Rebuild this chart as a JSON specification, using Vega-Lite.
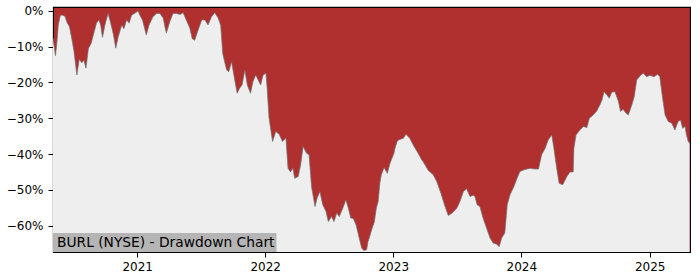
{
  "$schema": "https://vega.github.io/schema/vega-lite/v6.json",
  "autosize": {"type": "none"},
  "padding": {"left": 53, "top": 7, "right": 10, "bottom": 28},
  "width": 637,
  "height": 245,
  "config": {
    "view": {"stroke": "#000000", "strokeWidth": 1.1, "fill": "#b03030"},
    "font": "DejaVu Sans"
  },
  "datasets": {
    "drawdown": [
    {"date": "2020-05-06", "dd": -0.075}, {"date": "2020-05-13", "dd": -0.125}, {"date": "2020-05-17", "dd": -0.09},
    {"date": "2020-05-21", "dd": -0.04}, {"date": "2020-05-27", "dd": -0.012}, {"date": "2020-06-03", "dd": -0.012},
    {"date": "2020-06-09", "dd": -0.015}, {"date": "2020-06-15", "dd": -0.032}, {"date": "2020-06-22", "dd": -0.044},
    {"date": "2020-06-29", "dd": -0.08}, {"date": "2020-07-05", "dd": -0.114}, {"date": "2020-07-13", "dd": -0.179},
    {"date": "2020-07-20", "dd": -0.135}, {"date": "2020-07-27", "dd": -0.145}, {"date": "2020-08-02", "dd": -0.138},
    {"date": "2020-08-08", "dd": -0.16}, {"date": "2020-08-15", "dd": -0.105}, {"date": "2020-08-23", "dd": -0.09},
    {"date": "2020-08-29", "dd": -0.067}, {"date": "2020-09-07", "dd": -0.034}, {"date": "2020-09-14", "dd": -0.025},
    {"date": "2020-09-19", "dd": -0.04}, {"date": "2020-09-24", "dd": -0.074}, {"date": "2020-10-01", "dd": -0.039},
    {"date": "2020-10-10", "dd": -0.007}, {"date": "2020-10-17", "dd": -0.032}, {"date": "2020-10-25", "dd": -0.065},
    {"date": "2020-11-01", "dd": -0.104}, {"date": "2020-11-08", "dd": -0.072}, {"date": "2020-11-18", "dd": -0.039},
    {"date": "2020-11-24", "dd": -0.05}, {"date": "2020-12-02", "dd": -0.025}, {"date": "2020-12-09", "dd": -0.034},
    {"date": "2020-12-16", "dd": -0.012}, {"date": "2020-12-24", "dd": -0.007}, {"date": "2021-01-04", "dd": 0.0},
    {"date": "2021-01-08", "dd": -0.011}, {"date": "2021-01-16", "dd": -0.025}, {"date": "2021-01-27", "dd": -0.067},
    {"date": "2021-02-04", "dd": -0.039}, {"date": "2021-02-15", "dd": -0.016}, {"date": "2021-02-25", "dd": -0.007},
    {"date": "2021-03-07", "dd": -0.007}, {"date": "2021-03-16", "dd": -0.02}, {"date": "2021-03-25", "dd": -0.062},
    {"date": "2021-04-04", "dd": -0.03}, {"date": "2021-04-13", "dd": -0.007}, {"date": "2021-04-24", "dd": -0.007},
    {"date": "2021-05-03", "dd": -0.01}, {"date": "2021-05-12", "dd": -0.005}, {"date": "2021-05-21", "dd": -0.025},
    {"date": "2021-05-31", "dd": -0.048}, {"date": "2021-06-07", "dd": -0.078}, {"date": "2021-06-14", "dd": -0.082},
    {"date": "2021-06-22", "dd": -0.058}, {"date": "2021-07-04", "dd": -0.025}, {"date": "2021-07-13", "dd": -0.025},
    {"date": "2021-07-22", "dd": -0.039}, {"date": "2021-08-01", "dd": -0.016}, {"date": "2021-08-10", "dd": -0.005},
    {"date": "2021-08-20", "dd": -0.02}, {"date": "2021-08-27", "dd": -0.04}, {"date": "2021-09-02", "dd": -0.12},
    {"date": "2021-09-13", "dd": -0.165}, {"date": "2021-09-19", "dd": -0.17}, {"date": "2021-09-27", "dd": -0.142},
    {"date": "2021-10-07", "dd": -0.198}, {"date": "2021-10-13", "dd": -0.23}, {"date": "2021-10-20", "dd": -0.216},
    {"date": "2021-10-27", "dd": -0.207}, {"date": "2021-11-04", "dd": -0.165}, {"date": "2021-11-11", "dd": -0.207},
    {"date": "2021-11-20", "dd": -0.23}, {"date": "2021-11-27", "dd": -0.198}, {"date": "2021-12-05", "dd": -0.179},
    {"date": "2021-12-12", "dd": -0.193}, {"date": "2021-12-19", "dd": -0.207}, {"date": "2021-12-26", "dd": -0.179},
    {"date": "2022-01-03", "dd": -0.174}, {"date": "2022-01-06", "dd": -0.21}, {"date": "2022-01-12", "dd": -0.3},
    {"date": "2022-01-22", "dd": -0.365}, {"date": "2022-01-31", "dd": -0.337}, {"date": "2022-02-10", "dd": -0.345},
    {"date": "2022-02-19", "dd": -0.365}, {"date": "2022-03-01", "dd": -0.355}, {"date": "2022-03-07", "dd": -0.44},
    {"date": "2022-03-14", "dd": -0.45}, {"date": "2022-03-21", "dd": -0.44}, {"date": "2022-03-26", "dd": -0.468},
    {"date": "2022-04-05", "dd": -0.463}, {"date": "2022-04-12", "dd": -0.43}, {"date": "2022-04-19", "dd": -0.379},
    {"date": "2022-04-29", "dd": -0.398}, {"date": "2022-05-06", "dd": -0.402}, {"date": "2022-05-13", "dd": -0.491},
    {"date": "2022-05-23", "dd": -0.547}, {"date": "2022-05-29", "dd": -0.523}, {"date": "2022-06-06", "dd": -0.505},
    {"date": "2022-06-14", "dd": -0.542}, {"date": "2022-06-23", "dd": -0.56}, {"date": "2022-06-30", "dd": -0.589},
    {"date": "2022-07-09", "dd": -0.575}, {"date": "2022-07-16", "dd": -0.589}, {"date": "2022-07-24", "dd": -0.565},
    {"date": "2022-07-31", "dd": -0.575}, {"date": "2022-08-10", "dd": -0.552}, {"date": "2022-08-19", "dd": -0.528},
    {"date": "2022-08-26", "dd": -0.552}, {"date": "2022-09-02", "dd": -0.579}, {"date": "2022-09-09", "dd": -0.58},
    {"date": "2022-09-17", "dd": -0.598}, {"date": "2022-09-26", "dd": -0.635}, {"date": "2022-10-03", "dd": -0.663},
    {"date": "2022-10-09", "dd": -0.67}, {"date": "2022-10-17", "dd": -0.668}, {"date": "2022-10-21", "dd": -0.645},
    {"date": "2022-10-26", "dd": -0.63}, {"date": "2022-11-01", "dd": -0.61}, {"date": "2022-11-08", "dd": -0.59},
    {"date": "2022-11-14", "dd": -0.55}, {"date": "2022-11-19", "dd": -0.533}, {"date": "2022-11-24", "dd": -0.48},
    {"date": "2022-11-28", "dd": -0.458}, {"date": "2022-12-06", "dd": -0.438}, {"date": "2022-12-15", "dd": -0.454},
    {"date": "2022-12-23", "dd": -0.425}, {"date": "2023-01-03", "dd": -0.398}, {"date": "2023-01-06", "dd": -0.384},
    {"date": "2023-01-12", "dd": -0.365}, {"date": "2023-01-17", "dd": -0.36}, {"date": "2023-01-30", "dd": -0.356},
    {"date": "2023-02-06", "dd": -0.345}, {"date": "2023-02-17", "dd": -0.356}, {"date": "2023-02-27", "dd": -0.375},
    {"date": "2023-03-13", "dd": -0.398}, {"date": "2023-03-23", "dd": -0.416}, {"date": "2023-03-27", "dd": -0.421},
    {"date": "2023-04-11", "dd": -0.446}, {"date": "2023-04-25", "dd": -0.458}, {"date": "2023-05-05", "dd": -0.477},
    {"date": "2023-05-17", "dd": -0.51}, {"date": "2023-05-28", "dd": -0.545}, {"date": "2023-06-07", "dd": -0.572},
    {"date": "2023-06-18", "dd": -0.565}, {"date": "2023-07-01", "dd": -0.552}, {"date": "2023-07-10", "dd": -0.533},
    {"date": "2023-07-20", "dd": -0.505}, {"date": "2023-07-29", "dd": -0.497}, {"date": "2023-08-08", "dd": -0.519},
    {"date": "2023-08-17", "dd": -0.515}, {"date": "2023-08-22", "dd": -0.519}, {"date": "2023-08-28", "dd": -0.542},
    {"date": "2023-09-05", "dd": -0.547}, {"date": "2023-09-14", "dd": -0.579}, {"date": "2023-09-24", "dd": -0.607},
    {"date": "2023-10-04", "dd": -0.635}, {"date": "2023-10-13", "dd": -0.649}, {"date": "2023-10-23", "dd": -0.652},
    {"date": "2023-10-30", "dd": -0.659}, {"date": "2023-11-06", "dd": -0.635}, {"date": "2023-11-15", "dd": -0.621},
    {"date": "2023-11-22", "dd": -0.542}, {"date": "2023-11-30", "dd": -0.514}, {"date": "2023-12-11", "dd": -0.491},
    {"date": "2023-12-20", "dd": -0.468}, {"date": "2023-12-28", "dd": -0.449}, {"date": "2024-01-09", "dd": -0.444},
    {"date": "2024-01-26", "dd": -0.44}, {"date": "2024-02-09", "dd": -0.442}, {"date": "2024-02-19", "dd": -0.442},
    {"date": "2024-02-28", "dd": -0.402}, {"date": "2024-03-09", "dd": -0.384}, {"date": "2024-03-18", "dd": -0.36},
    {"date": "2024-03-28", "dd": -0.347}, {"date": "2024-04-03", "dd": -0.384}, {"date": "2024-04-11", "dd": -0.44},
    {"date": "2024-04-18", "dd": -0.482}, {"date": "2024-04-28", "dd": -0.486}, {"date": "2024-05-10", "dd": -0.463},
    {"date": "2024-05-19", "dd": -0.45}, {"date": "2024-05-28", "dd": -0.45}, {"date": "2024-05-30", "dd": -0.384},
    {"date": "2024-06-05", "dd": -0.347}, {"date": "2024-06-16", "dd": -0.333}, {"date": "2024-06-26", "dd": -0.323},
    {"date": "2024-07-06", "dd": -0.326}, {"date": "2024-07-13", "dd": -0.3}, {"date": "2024-07-24", "dd": -0.291},
    {"date": "2024-08-03", "dd": -0.28}, {"date": "2024-08-12", "dd": -0.263}, {"date": "2024-08-18", "dd": -0.249},
    {"date": "2024-08-24", "dd": -0.226}, {"date": "2024-09-01", "dd": -0.235}, {"date": "2024-09-08", "dd": -0.244},
    {"date": "2024-09-15", "dd": -0.227}, {"date": "2024-09-24", "dd": -0.226}, {"date": "2024-10-04", "dd": -0.253},
    {"date": "2024-10-10", "dd": -0.281}, {"date": "2024-10-17", "dd": -0.275}, {"date": "2024-10-26", "dd": -0.286},
    {"date": "2024-11-01", "dd": -0.291}, {"date": "2024-11-11", "dd": -0.263}, {"date": "2024-11-18", "dd": -0.24},
    {"date": "2024-11-25", "dd": -0.193}, {"date": "2024-12-07", "dd": -0.179}, {"date": "2024-12-14", "dd": -0.174},
    {"date": "2024-12-23", "dd": -0.184}, {"date": "2025-01-02", "dd": -0.18}, {"date": "2025-01-13", "dd": -0.184},
    {"date": "2025-01-24", "dd": -0.177}, {"date": "2025-01-30", "dd": -0.184}, {"date": "2025-02-07", "dd": -0.244},
    {"date": "2025-02-14", "dd": -0.291}, {"date": "2025-02-23", "dd": -0.309}, {"date": "2025-03-05", "dd": -0.314},
    {"date": "2025-03-14", "dd": -0.333}, {"date": "2025-03-23", "dd": -0.309}, {"date": "2025-03-30", "dd": -0.305},
    {"date": "2025-04-05", "dd": -0.328}, {"date": "2025-04-12", "dd": -0.323}, {"date": "2025-04-16", "dd": -0.347},
    {"date": "2025-04-21", "dd": -0.365}, {"date": "2025-04-25", "dd": -0.37}
    ],
    "caption": [{"label": "BURL (NYSE) - Drawdown Chart"}]
  },
  "layer": [
    {
      "data": {"name": "drawdown"},
      "mark": {"type": "area", "color": "#eeeeee", "clip": true},
      "encoding": {
        "x": {
          "field": "date", "type": "temporal",
          "scale": {"type": "utc", "domain": [1588723200000, 1745625600000]},
          "axis": {"title": null, "grid": false, "domain": false, "format": "%Y", "tickCount": {"interval": "year", "step": 1},
                   "tickSize": 5, "tickColor": "#000", "tickWidth": 1, "labelColor": "#000", "labelFontSize": 12, "labelPadding": 4, "labelFont": "DejaVu Sans"}
        },
        "y": {
          "field": "dd", "type": "quantitative",
          "scale": {"domain": [-0.674, 0.011], "nice": false, "zero": false},
          "axis": {"title": null, "grid": false, "domain": false, "format": ".0%", "values": [0, -0.1, -0.2, -0.3, -0.4, -0.5, -0.6],
                   "tickSize": 5, "tickColor": "#000", "tickWidth": 1, "labelColor": "#000", "labelFontSize": 12, "labelPadding": 5, "labelFont": "DejaVu Sans"}
        },
        "y2": {"datum": -0.674}
      }
    },
    {
      "data": {"name": "drawdown"},
      "mark": {"type": "line", "color": "#707070", "strokeWidth": 1, "opacity": 0.7, "clip": true},
      "encoding": {
        "x": {"field": "date", "type": "temporal"},
        "y": {"field": "dd", "type": "quantitative"}
      }
    },
    {
      "data": {"name": "caption"},
      "mark": {"type": "rect", "color": "#b5b5b5"},
      "encoding": {
        "x": {"datum": 1588723200000, "type": "temporal"},
        "x2": {"datum": 1643760000000},
        "y": {"datum": -0.621, "type": "quantitative"},
        "y2": {"datum": -0.674}
      }
    },
    {
      "data": {"name": "caption"},
      "mark": {"type": "text", "align": "left", "baseline": "middle", "dx": 4, "font": "DejaVu Sans", "fontSize": 13.8, "color": "#000"},
      "encoding": {
        "x": {"datum": 1588723200000, "type": "temporal"},
        "y": {"datum": -0.6475, "type": "quantitative"},
        "text": {"field": "label"}
      }
    }
  ]
}
